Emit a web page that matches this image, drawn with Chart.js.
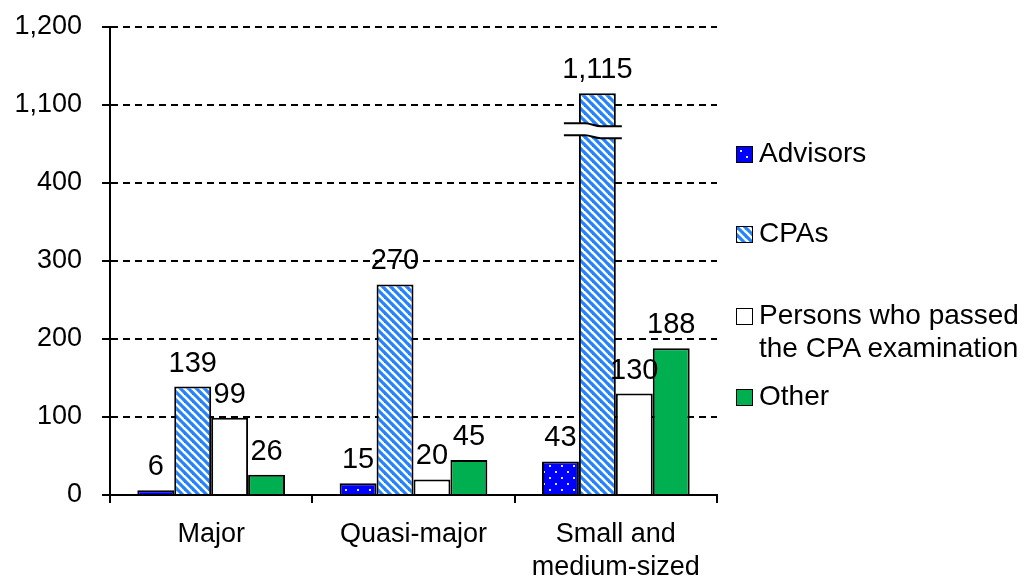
<!DOCTYPE html>
<html>
<head>
<meta charset="utf-8">
<script src="https://cdn.jsdelivr.net/npm/chart.js@4/dist/chart.umd.min.js"></script>
<style>
  body { margin: 0; background: #fff; }
  #wrap { position: relative; width: 1035px; height: 577px; }
  #legend { position: absolute; left: 736px; top: 0; width: 299px;
    font: 28px "Liberation Sans", Arial, sans-serif; color: #000; line-height: 33px; }
  .item { position: absolute; left: 0; display: flex; align-items: flex-start; white-space: pre-line; }
  .sw { width: 15px; height: 15px; border: 1px solid #000; margin: 10px 6px 0 0; flex: none; }
</style>
</head>
<body>
<div id="wrap">
  <canvas id="barChart" width="1035" height="577"></canvas>
  <div id="legend"></div>
</div>
<script>
// Data
const categories = ['Major', 'Quasi-major', ['Small and', 'medium-sized']];
const advisors = [6, 15, 43];
const cpas = [139, 270, 1115];
const passed = [99, 20, 130];
const other = [26, 45, 188];
const yTicks = [0, 100, 200, 300, 400, 1100, 1200];

// broken axis: values between 400 and 1000 are cut out
const gapFrom = 400;
const gapTo = 1000;
const compress = (v) => (v >= gapTo ? v - (gapTo - gapFrom) : v);
const breakAt = 467; // where the break mark sits, in compressed units

const FONT = '"Liberation Sans", Arial, sans-serif';

// pattern tiles
function makeTile(w, h, draw) {
  const c = document.createElement('canvas');
  c.width = w;
  c.height = h;
  draw(c.getContext('2d'), w, h);
  return c;
}

const dotTile = makeTile(12, 12, (g) => {
  g.fillStyle = '#0000ff';
  g.fillRect(0, 0, 12, 12);
  g.fillStyle = '#dfe2ff';
  g.fillRect(3, 3, 2, 2);
  g.fillRect(9, 9, 2, 2);
});

const stripeTile = makeTile(8, 8, (g) => {
  g.fillStyle = '#ffffff';
  g.fillRect(0, 0, 8, 8);
  g.strokeStyle = '#2482ff';
  g.lineWidth = 3.2;
  for (let k = -1; k <= 1; k++) {
    g.beginPath();
    g.moveTo(k * 8 - 1, -1);
    g.lineTo(k * 8 + 9, 9);
    g.stroke();
  }
});

const ctx = document.getElementById('barChart').getContext('2d');
const dotPattern = ctx.createPattern(dotTile, 'repeat');
const stripePattern = ctx.createPattern(stripeTile, 'repeat');

// Value labels above bars
const valueLabels = {
  id: 'valueLabels',
  afterDatasetsDraw(chart) {
    const c = chart.ctx;
    c.save();
    c.font = '29px ' + FONT;
    c.fillStyle = '#000';
    c.textAlign = 'center';
    c.textBaseline = 'alphabetic';
    chart.data.datasets.forEach((ds, i) => {
      chart.getDatasetMeta(i).data.forEach((bar, j) => {
        c.fillText(ds.values[j].toLocaleString('en-US'), bar.x, bar.y - 15);
      });
    });
    c.restore();
  },
};

// Break mark across bars that go past the gap
const axisBreak = {
  id: 'axisBreak',
  afterDatasetsDraw(chart) {
    const c = chart.ctx;
    const y = chart.scales.y.getPixelForValue(breakAt);
    chart.data.datasets.forEach((ds, i) => {
      chart.getDatasetMeta(i).data.forEach((bar, j) => {
        if (ds.values[j] < gapTo) return;
        const x0 = bar.x - bar.width / 2 - 15;
        const x1 = bar.x + bar.width / 2 + 6;
        const xm = (x0 + x1) / 2;
        const wave = (off) => {
          c.moveTo(x0, y + off - 1.5);
          c.lineTo(xm - 8, y + off - 1.5);
          c.bezierCurveTo(xm - 2, y + off - 1.5, xm + 2, y + off + 1.5, xm + 8, y + off + 1.5);
          c.lineTo(x1, y + off + 1.5);
        };
        c.save();
        c.beginPath();
        wave(-6);
        c.lineTo(x1, y + 7.5);
        c.lineTo(xm + 8, y + 7.5);
        c.bezierCurveTo(xm + 2, y + 7.5, xm - 2, y + 4.5, xm - 8, y + 4.5);
        c.lineTo(x0, y + 4.5);
        c.closePath();
        c.fillStyle = '#fff';
        c.fill();
        c.beginPath();
        wave(-6);
        wave(6);
        c.strokeStyle = '#000';
        c.lineWidth = 2;
        c.stroke();
        c.restore();
      });
    });
  },
};

const chart = new Chart(ctx, {
  type: 'bar',
  data: {
    labels: categories,
    datasets: [
      { label: 'Advisors', values: advisors, data: advisors.map(compress), backgroundColor: dotPattern },
      { label: 'CPAs', values: cpas, data: cpas.map(compress), backgroundColor: stripePattern },
      { label: 'Persons who passed\nthe CPA examination', values: passed, data: passed.map(compress), backgroundColor: '#ffffff' },
      { label: 'Other', values: other, data: other.map(compress), backgroundColor: '#00b050' },
    ],
  },
  options: {
    responsive: false,
    animation: false,
    layout: { padding: { top: 27, right: 318, left: 0, bottom: 0 } },
    datasets: {
      bar: {
        borderColor: '#000',
        borderWidth: 2,
        barPercentage: 1,
        categoryPercentage: 0.73,
      },
    },
    plugins: {
      legend: { display: false },
      tooltip: { enabled: false },
    },
    scales: {
      x: {
        grid: { display: true, drawOnChartArea: false, drawTicks: true, tickLength: 8, color: '#000', lineWidth: 2 },
        border: { display: true, color: '#000', width: 2 },
        ticks: { color: '#000', padding: 15, font: { family: FONT, size: 27, lineHeight: 1.22 }, maxRotation: 0 },
        afterFit(scale) { scale.height = 82; },
      },
      y: {
        min: 0,
        max: compress(1200),
        afterBuildTicks(scale) {
          scale.ticks = yTicks.map((v) => ({ value: compress(v) }));
        },
        grid: { color: '#000', lineWidth: 2, tickLength: 8, tickColor: '#000', tickWidth: 2 },
        border: { display: true, color: '#000', width: 2, dash: [7, 5] },
        ticks: {
          color: '#000',
          padding: 20,
          font: { family: FONT, size: 27 },
          callback: (value, index) => yTicks[index].toLocaleString('en-US'),
        },
        afterFit(scale) {
          scale.width = 110;
          scale.paddingTop = 0;
          scale.paddingBottom = 0;
        },
      },
    },
  },
  plugins: [axisBreak, valueLabels],
});

// HTML legend so the long label can wrap onto two lines
const legendTops = [136, 216, 298, 379];
const swatches = [dotTile.toDataURL(), stripeTile.toDataURL(), null, null];
const legend = document.getElementById('legend');
chart.data.datasets.forEach((ds, i) => {
  const item = document.createElement('div');
  item.className = 'item';
  item.style.top = legendTops[i] + 'px';
  const sw = document.createElement('span');
  sw.className = 'sw';
  if (swatches[i]) sw.style.backgroundImage = 'url(' + swatches[i] + ')';
  else sw.style.background = ds.backgroundColor;
  const txt = document.createElement('span');
  txt.textContent = ds.label;
  item.appendChild(sw);
  item.appendChild(txt);
  legend.appendChild(item);
});
</script>
</body>
</html>
